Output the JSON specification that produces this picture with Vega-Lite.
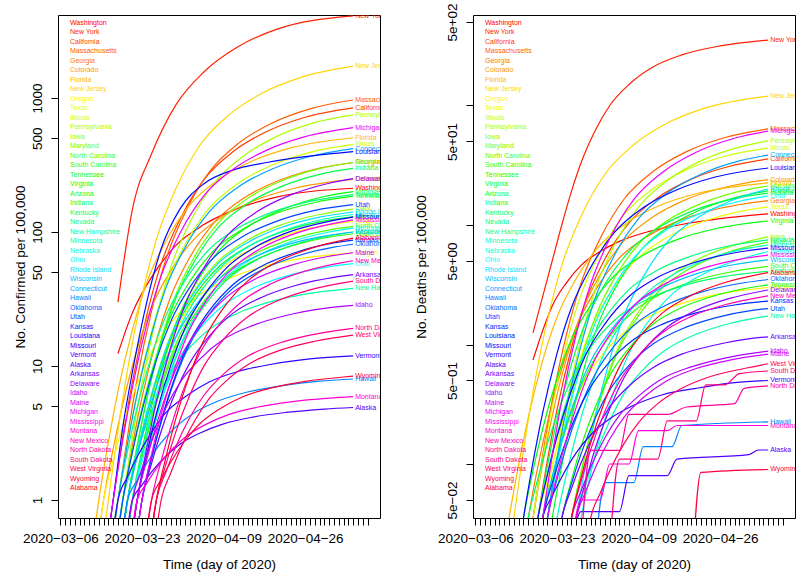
{
"$schema":"https://vega.github.io/schema/vega-lite/v6.json",
"padding":{"left":12,"top":2,"right":0,"bottom":0},
"background":"white",
"config":{"font":"Liberation Sans","view":{"stroke":"#000","strokeWidth":1},
"axis":{"grid":false,"domain":false,"tickColor":"#000","tickSize":7,"labelColor":"#000","titleColor":"#000","labelFontSize":13.5,"titleFontSize":13.5,"titleFontWeight":"normal","labelFont":"Liberation Sans","titleFont":"Liberation Sans","labelOverlap":false,"labelFlush":false,"labelBound":false},
"legend":{"labelFont":"Liberation Sans"}},
"datasets":{
"names":[{"a":"WA","n":"Washington"},{"a":"NY","n":"New York"},{"a":"CA","n":"California"},{"a":"MA","n":"Massachusetts"},{"a":"GA","n":"Georgia"},{"a":"CO","n":"Colorado"},{"a":"FL","n":"Florida"},{"a":"NJ","n":"New Jersey"},{"a":"OR","n":"Oregon"},{"a":"TX","n":"Texas"},{"a":"IL","n":"Illinois"},{"a":"PA","n":"Pennsylvania"},{"a":"IA","n":"Iowa"},{"a":"MD","n":"Maryland"},{"a":"NC","n":"North Carolina"},{"a":"SC","n":"South Carolina"},{"a":"TN","n":"Tennessee"},{"a":"VA","n":"Virginia"},{"a":"AZ","n":"Arizona"},{"a":"IN","n":"Indiana"},{"a":"KY","n":"Kentucky"},{"a":"NV","n":"Nevada"},{"a":"NH","n":"New Hampshire"},{"a":"MN","n":"Minnesota"},{"a":"NE","n":"Nebraska"},{"a":"OH","n":"Ohio"},{"a":"RI","n":"Rhode Island"},{"a":"WI","n":"Wisconsin"},{"a":"CT","n":"Connecticut"},{"a":"HI","n":"Hawaii"},{"a":"OK","n":"Oklahoma"},{"a":"UT","n":"Utah"},{"a":"KS","n":"Kansas"},{"a":"LA","n":"Louisiana"},{"a":"MO","n":"Missouri"},{"a":"VT","n":"Vermont"},{"a":"AK","n":"Alaska"},{"a":"AR","n":"Arkansas"},{"a":"DE","n":"Delaware"},{"a":"ID","n":"Idaho"},{"a":"ME","n":"Maine"},{"a":"MI","n":"Michigan"},{"a":"MS","n":"Mississippi"},{"a":"MT","n":"Montana"},{"a":"NM","n":"New Mexico"},{"a":"ND","n":"North Dakota"},{"a":"SD","n":"South Dakota"},{"a":"WV","n":"West Virginia"},{"a":"WY","n":"Wyoming"},{"a":"AL","n":"Alabama"}],
"conf":[
{"s":"WA","d":"2020-03-18","v":12.4},{"s":"WA","d":"2020-03-21","v":24.9},{"s":"WA","d":"2020-03-25","v":46},{"s":"WA","d":"2020-03-30","v":79},{"s":"WA","d":"2020-04-05","v":114},{"s":"WA","d":"2020-04-12","v":150},{"s":"WA","d":"2020-04-20","v":182},{"s":"WA","d":"2020-05-06","v":212},
{"s":"NY","d":"2020-03-18","v":30},{"s":"NY","d":"2020-03-21","v":147},{"s":"NY","d":"2020-03-25","v":383},{"s":"NY","d":"2020-03-30","v":881},{"s":"NY","d":"2020-04-05","v":1577},{"s":"NY","d":"2020-04-12","v":2410},{"s":"NY","d":"2020-04-20","v":3250},{"s":"NY","d":"2020-05-06","v":4100},
{"s":"CA","d":"2020-03-15","v":0.3},{"s":"CA","d":"2020-03-17","v":1},{"s":"CA","d":"2020-03-19","v":2.95},{"s":"CA","d":"2020-03-21","v":7.6},{"s":"CA","d":"2020-03-24","v":24},{"s":"CA","d":"2020-03-27","v":58},{"s":"CA","d":"2020-03-31","v":126},{"s":"CA","d":"2020-04-05","v":248},{"s":"CA","d":"2020-04-11","v":398},{"s":"CA","d":"2020-04-18","v":562},{"s":"CA","d":"2020-04-26","v":718},{"s":"CA","d":"2020-05-06","v":844},
{"s":"MA","d":"2020-03-16","v":0.3},{"s":"MA","d":"2020-03-18","v":1},{"s":"MA","d":"2020-03-20","v":3},{"s":"MA","d":"2020-03-22","v":8},{"s":"MA","d":"2020-03-25","v":25.8},{"s":"MA","d":"2020-03-28","v":63},{"s":"MA","d":"2020-04-01","v":140},{"s":"MA","d":"2020-04-06","v":280},{"s":"MA","d":"2020-04-12","v":455},{"s":"MA","d":"2020-04-19","v":647},{"s":"MA","d":"2020-04-27","v":830},{"s":"MA","d":"2020-05-06","v":966},
{"s":"GA","d":"2020-03-17","v":0.3},{"s":"GA","d":"2020-03-19","v":1},{"s":"GA","d":"2020-03-21","v":2.55},{"s":"GA","d":"2020-03-23","v":5.8},{"s":"GA","d":"2020-03-26","v":15.6},{"s":"GA","d":"2020-03-29","v":33},{"s":"GA","d":"2020-04-02","v":65},{"s":"GA","d":"2020-04-07","v":117},{"s":"GA","d":"2020-04-13","v":177},{"s":"GA","d":"2020-04-20","v":238},{"s":"GA","d":"2020-04-28","v":294},{"s":"GA","d":"2020-05-06","v":330},
{"s":"CO","d":"2020-03-13","v":0.3},{"s":"CO","d":"2020-03-15","v":1},{"s":"CO","d":"2020-03-17","v":2.42},{"s":"CO","d":"2020-03-19","v":5.2},{"s":"CO","d":"2020-03-22","v":13.4},{"s":"CO","d":"2020-03-25","v":27.4},{"s":"CO","d":"2020-03-29","v":51.5},{"s":"CO","d":"2020-04-03","v":89.5},{"s":"CO","d":"2020-04-09","v":132},{"s":"CO","d":"2020-04-16","v":175},{"s":"CO","d":"2020-04-24","v":213},{"s":"CO","d":"2020-05-06","v":247},
{"s":"FL","d":"2020-03-12","v":0.3},{"s":"FL","d":"2020-03-14","v":1},{"s":"FL","d":"2020-03-16","v":2.71},{"s":"FL","d":"2020-03-18","v":6.5},{"s":"FL","d":"2020-03-21","v":18.6},{"s":"FL","d":"2020-03-24","v":41.9},{"s":"FL","d":"2020-03-28","v":85.7},{"s":"FL","d":"2020-04-02","v":160},{"s":"FL","d":"2020-04-08","v":247},{"s":"FL","d":"2020-04-15","v":339},{"s":"FL","d":"2020-04-23","v":424},{"s":"FL","d":"2020-05-06","v":505},
{"s":"NJ","d":"2020-03-14","v":0.3},{"s":"NJ","d":"2020-03-16","v":1},{"s":"NJ","d":"2020-03-18","v":3.3},{"s":"NJ","d":"2020-03-20","v":9.4},{"s":"NJ","d":"2020-03-23","v":33.4},{"s":"NJ","d":"2020-03-26","v":88},{"s":"NJ","d":"2020-03-30","v":208},{"s":"NJ","d":"2020-04-04","v":440},{"s":"NJ","d":"2020-04-10","v":741},{"s":"NJ","d":"2020-04-17","v":1084},{"s":"NJ","d":"2020-04-25","v":1419},{"s":"NJ","d":"2020-05-06","v":1726},
{"s":"OR","d":"2020-03-13","v":0.3},{"s":"OR","d":"2020-03-15","v":1},{"s":"OR","d":"2020-03-17","v":1.98},{"s":"OR","d":"2020-03-19","v":3.58},{"s":"OR","d":"2020-03-22","v":7.4},{"s":"OR","d":"2020-03-25","v":12.8},{"s":"OR","d":"2020-03-29","v":20.9},{"s":"OR","d":"2020-04-03","v":32},{"s":"OR","d":"2020-04-09","v":43},{"s":"OR","d":"2020-04-16","v":53.6},{"s":"OR","d":"2020-04-24","v":62.4},{"s":"OR","d":"2020-05-06","v":70},
{"s":"TX","d":"2020-03-18","v":0.3},{"s":"TX","d":"2020-03-20","v":1},{"s":"TX","d":"2020-03-22","v":2.17},{"s":"TX","d":"2020-03-24","v":4.27},{"s":"TX","d":"2020-03-27","v":9.7},{"s":"TX","d":"2020-03-30","v":18.2},{"s":"TX","d":"2020-04-03","v":31.8},{"s":"TX","d":"2020-04-08","v":51.5},{"s":"TX","d":"2020-04-14","v":72.2},{"s":"TX","d":"2020-04-21","v":92.4},{"s":"TX","d":"2020-04-29","v":110},{"s":"TX","d":"2020-05-06","v":120},
{"s":"IL","d":"2020-03-16","v":0.3},{"s":"IL","d":"2020-03-18","v":1},{"s":"IL","d":"2020-03-20","v":2.67},{"s":"IL","d":"2020-03-22","v":6.3},{"s":"IL","d":"2020-03-25","v":18},{"s":"IL","d":"2020-03-28","v":40},{"s":"IL","d":"2020-04-01","v":81},{"s":"IL","d":"2020-04-06","v":150},{"s":"IL","d":"2020-04-12","v":230},{"s":"IL","d":"2020-04-19","v":315},{"s":"IL","d":"2020-04-27","v":393},{"s":"IL","d":"2020-05-06","v":450},
{"s":"PA","d":"2020-03-17","v":0.3},{"s":"PA","d":"2020-03-19","v":1},{"s":"PA","d":"2020-03-21","v":2.9},{"s":"PA","d":"2020-03-23","v":7.4},{"s":"PA","d":"2020-03-26","v":23},{"s":"PA","d":"2020-03-29","v":54.7},{"s":"PA","d":"2020-04-02","v":118},{"s":"PA","d":"2020-04-07","v":230},{"s":"PA","d":"2020-04-13","v":366},{"s":"PA","d":"2020-04-20","v":515},{"s":"PA","d":"2020-04-28","v":655},{"s":"PA","d":"2020-05-06","v":748},
{"s":"IA","d":"2020-03-18","v":0.3},{"s":"IA","d":"2020-03-20","v":1},{"s":"IA","d":"2020-03-22","v":2.24},{"s":"IA","d":"2020-03-24","v":4.5},{"s":"IA","d":"2020-03-27","v":10.7},{"s":"IA","d":"2020-03-30","v":20.7},{"s":"IA","d":"2020-04-03","v":36.9},{"s":"IA","d":"2020-04-08","v":61},{"s":"IA","d":"2020-04-14","v":87},{"s":"IA","d":"2020-04-21","v":113},{"s":"IA","d":"2020-04-29","v":135},{"s":"IA","d":"2020-05-06","v":148},
{"s":"MD","d":"2020-03-18","v":0.3},{"s":"MD","d":"2020-03-20","v":1},{"s":"MD","d":"2020-03-22","v":2.55},{"s":"MD","d":"2020-03-24","v":5.8},{"s":"MD","d":"2020-03-27","v":15.7},{"s":"MD","d":"2020-03-30","v":33.6},{"s":"MD","d":"2020-04-03","v":66},{"s":"MD","d":"2020-04-08","v":118},{"s":"MD","d":"2020-04-14","v":178},{"s":"MD","d":"2020-04-21","v":240},{"s":"MD","d":"2020-04-29","v":297},{"s":"MD","d":"2020-05-06","v":330},
{"s":"NC","d":"2020-03-19","v":0.3},{"s":"NC","d":"2020-03-21","v":1},{"s":"NC","d":"2020-03-23","v":2.14},{"s":"NC","d":"2020-03-25","v":4.17},{"s":"NC","d":"2020-03-28","v":9.35},{"s":"NC","d":"2020-03-31","v":17.4},{"s":"NC","d":"2020-04-04","v":30},{"s":"NC","d":"2020-04-09","v":48.3},{"s":"NC","d":"2020-04-15","v":67.3},{"s":"NC","d":"2020-04-22","v":85.9},{"s":"NC","d":"2020-04-30","v":102},{"s":"NC","d":"2020-05-06","v":110},
{"s":"SC","d":"2020-03-19","v":0.3},{"s":"SC","d":"2020-03-21","v":1},{"s":"SC","d":"2020-03-23","v":2.1},{"s":"SC","d":"2020-03-25","v":4},{"s":"SC","d":"2020-03-28","v":8.8},{"s":"SC","d":"2020-03-31","v":16.1},{"s":"SC","d":"2020-04-04","v":27.4},{"s":"SC","d":"2020-04-09","v":43.6},{"s":"SC","d":"2020-04-15","v":60.3},{"s":"SC","d":"2020-04-22","v":76.2},{"s":"SC","d":"2020-04-30","v":90.2},{"s":"SC","d":"2020-05-06","v":97},
{"s":"TN","d":"2020-03-17","v":0.3},{"s":"TN","d":"2020-03-19","v":1},{"s":"TN","d":"2020-03-21","v":2.32},{"s":"TN","d":"2020-03-23","v":4.85},{"s":"TN","d":"2020-03-26","v":11.9},{"s":"TN","d":"2020-03-29","v":23.5},{"s":"TN","d":"2020-04-02","v":43},{"s":"TN","d":"2020-04-07","v":72.8},{"s":"TN","d":"2020-04-13","v":105},{"s":"TN","d":"2020-04-20","v":138},{"s":"TN","d":"2020-04-28","v":166},{"s":"TN","d":"2020-05-06","v":185},
{"s":"VA","d":"2020-03-19","v":0.3},{"s":"VA","d":"2020-03-21","v":1},{"s":"VA","d":"2020-03-23","v":2.36},{"s":"VA","d":"2020-03-25","v":5},{"s":"VA","d":"2020-03-28","v":12.4},{"s":"VA","d":"2020-03-31","v":25},{"s":"VA","d":"2020-04-04","v":46},{"s":"VA","d":"2020-04-09","v":79},{"s":"VA","d":"2020-04-15","v":115},{"s":"VA","d":"2020-04-22","v":151},{"s":"VA","d":"2020-04-30","v":184},{"s":"VA","d":"2020-05-06","v":200},
{"s":"AZ","d":"2020-03-18","v":0.3},{"s":"AZ","d":"2020-03-20","v":1},{"s":"AZ","d":"2020-03-22","v":2.2},{"s":"AZ","d":"2020-03-24","v":4.4},{"s":"AZ","d":"2020-03-27","v":10.1},{"s":"AZ","d":"2020-03-30","v":19.1},{"s":"AZ","d":"2020-04-03","v":33.6},{"s":"AZ","d":"2020-04-08","v":55},{"s":"AZ","d":"2020-04-14","v":77.5},{"s":"AZ","d":"2020-04-21","v":99.6},{"s":"AZ","d":"2020-04-29","v":119},{"s":"AZ","d":"2020-05-06","v":130},
{"s":"IN","d":"2020-03-18","v":0.3},{"s":"IN","d":"2020-03-20","v":1},{"s":"IN","d":"2020-03-22","v":2.51},{"s":"IN","d":"2020-03-24","v":5.6},{"s":"IN","d":"2020-03-27","v":15},{"s":"IN","d":"2020-03-30","v":31.6},{"s":"IN","d":"2020-04-03","v":61},{"s":"IN","d":"2020-04-08","v":109},{"s":"IN","d":"2020-04-14","v":163},{"s":"IN","d":"2020-04-21","v":218},{"s":"IN","d":"2020-04-29","v":269},{"s":"IN","d":"2020-05-06","v":298},
{"s":"KY","d":"2020-03-20","v":0.3},{"s":"KY","d":"2020-03-22","v":1},{"s":"KY","d":"2020-03-24","v":2.1},{"s":"KY","d":"2020-03-26","v":4.06},{"s":"KY","d":"2020-03-29","v":9},{"s":"KY","d":"2020-04-01","v":16.5},{"s":"KY","d":"2020-04-05","v":28.2},{"s":"KY","d":"2020-04-10","v":45},{"s":"KY","d":"2020-04-16","v":62.4},{"s":"KY","d":"2020-04-23","v":79},{"s":"KY","d":"2020-05-01","v":93.5},{"s":"KY","d":"2020-05-06","v":100},
{"s":"NV","d":"2020-03-16","v":0.3},{"s":"NV","d":"2020-03-18","v":1},{"s":"NV","d":"2020-03-20","v":2.33},{"s":"NV","d":"2020-03-22","v":4.9},{"s":"NV","d":"2020-03-25","v":12},{"s":"NV","d":"2020-03-28","v":23.8},{"s":"NV","d":"2020-04-01","v":43.6},{"s":"NV","d":"2020-04-06","v":74},{"s":"NV","d":"2020-04-12","v":107},{"s":"NV","d":"2020-04-19","v":140},{"s":"NV","d":"2020-04-27","v":169},{"s":"NV","d":"2020-05-06","v":190},
{"s":"NH","d":"2020-03-17","v":0.3},{"s":"NH","d":"2020-03-19","v":1},{"s":"NH","d":"2020-03-21","v":1.8},{"s":"NH","d":"2020-03-23","v":3},{"s":"NH","d":"2020-03-26","v":5.6},{"s":"NH","d":"2020-03-29","v":9},{"s":"NH","d":"2020-04-02","v":13.8},{"s":"NH","d":"2020-04-07","v":19.9},{"s":"NH","d":"2020-04-13","v":25.7},{"s":"NH","d":"2020-04-20","v":31},{"s":"NH","d":"2020-04-28","v":35.3},{"s":"NH","d":"2020-05-06","v":38},
{"s":"MN","d":"2020-03-19","v":0.3},{"s":"MN","d":"2020-03-21","v":1},{"s":"MN","d":"2020-03-23","v":2.21},{"s":"MN","d":"2020-03-25","v":4.4},{"s":"MN","d":"2020-03-28","v":10.3},{"s":"MN","d":"2020-03-31","v":19.7},{"s":"MN","d":"2020-04-04","v":34.8},{"s":"MN","d":"2020-04-09","v":57},{"s":"MN","d":"2020-04-15","v":81},{"s":"MN","d":"2020-04-22","v":104},{"s":"MN","d":"2020-04-30","v":125},{"s":"MN","d":"2020-05-06","v":135},
{"s":"NE","d":"2020-03-20","v":0.3},{"s":"NE","d":"2020-03-22","v":1},{"s":"NE","d":"2020-03-24","v":2.13},{"s":"NE","d":"2020-03-26","v":4.14},{"s":"NE","d":"2020-03-29","v":9.3},{"s":"NE","d":"2020-04-01","v":17.2},{"s":"NE","d":"2020-04-05","v":29.6},{"s":"NE","d":"2020-04-10","v":47.5},{"s":"NE","d":"2020-04-16","v":66.2},{"s":"NE","d":"2020-04-23","v":84.3},{"s":"NE","d":"2020-05-01","v":100},{"s":"NE","d":"2020-05-06","v":107},
{"s":"OH","d":"2020-03-19","v":0.3},{"s":"OH","d":"2020-03-21","v":1},{"s":"OH","d":"2020-03-23","v":1.93},{"s":"OH","d":"2020-03-25","v":3.4},{"s":"OH","d":"2020-03-28","v":6.9},{"s":"OH","d":"2020-03-31","v":11.8},{"s":"OH","d":"2020-04-04","v":18.9},{"s":"OH","d":"2020-04-09","v":28.4},{"s":"OH","d":"2020-04-15","v":37.9},{"s":"OH","d":"2020-04-22","v":46.8},{"s":"OH","d":"2020-04-30","v":54.2},{"s":"OH","d":"2020-05-06","v":58},
{"s":"RI","d":"2020-03-18","v":0.3},{"s":"RI","d":"2020-03-20","v":1},{"s":"RI","d":"2020-03-22","v":2.22},{"s":"RI","d":"2020-03-24","v":4.5},{"s":"RI","d":"2020-03-27","v":10.5},{"s":"RI","d":"2020-03-30","v":20.1},{"s":"RI","d":"2020-04-03","v":35.7},{"s":"RI","d":"2020-04-08","v":58.8},{"s":"RI","d":"2020-04-14","v":83.4},{"s":"RI","d":"2020-04-21","v":108},{"s":"RI","d":"2020-04-29","v":129},{"s":"RI","d":"2020-05-06","v":141},
{"s":"WI","d":"2020-03-18","v":0.3},{"s":"WI","d":"2020-03-20","v":1},{"s":"WI","d":"2020-03-22","v":2.1},{"s":"WI","d":"2020-03-24","v":4.04},{"s":"WI","d":"2020-03-27","v":8.9},{"s":"WI","d":"2020-03-30","v":16.3},{"s":"WI","d":"2020-04-03","v":27.8},{"s":"WI","d":"2020-04-08","v":44.3},{"s":"WI","d":"2020-04-14","v":61.4},{"s":"WI","d":"2020-04-21","v":77.8},{"s":"WI","d":"2020-04-29","v":91.9},{"s":"WI","d":"2020-05-06","v":100},
{"s":"CT","d":"2020-03-16","v":0.3},{"s":"CT","d":"2020-03-18","v":1},{"s":"CT","d":"2020-03-20","v":2.64},{"s":"CT","d":"2020-03-22","v":6.2},{"s":"CT","d":"2020-03-25","v":17.4},{"s":"CT","d":"2020-03-28","v":38.3},{"s":"CT","d":"2020-04-01","v":76.9},{"s":"CT","d":"2020-04-06","v":141},{"s":"CT","d":"2020-04-12","v":216},{"s":"CT","d":"2020-04-19","v":294},{"s":"CT","d":"2020-04-27","v":366},{"s":"CT","d":"2020-05-06","v":419},
{"s":"HI","d":"2020-03-18","v":0.3},{"s":"HI","d":"2020-03-20","v":1},{"s":"HI","d":"2020-03-22","v":1.4},{"s":"HI","d":"2020-03-24","v":1.88},{"s":"HI","d":"2020-03-27","v":2.68},{"s":"HI","d":"2020-03-30","v":3.5},{"s":"HI","d":"2020-04-03","v":4.5},{"s":"HI","d":"2020-04-08","v":5.5},{"s":"HI","d":"2020-04-14","v":6.4},{"s":"HI","d":"2020-04-21","v":7.1},{"s":"HI","d":"2020-04-29","v":7.7},{"s":"HI","d":"2020-05-06","v":8},
{"s":"OK","d":"2020-03-21","v":0.3},{"s":"OK","d":"2020-03-23","v":1},{"s":"OK","d":"2020-03-25","v":2.05},{"s":"OK","d":"2020-03-27","v":3.8},{"s":"OK","d":"2020-03-30","v":8.2},{"s":"OK","d":"2020-04-02","v":14.6},{"s":"OK","d":"2020-04-06","v":24.4},{"s":"OK","d":"2020-04-11","v":38.2},{"s":"OK","d":"2020-04-17","v":52.2},{"s":"OK","d":"2020-04-24","v":65.6},{"s":"OK","d":"2020-05-02","v":77},{"s":"OK","d":"2020-05-06","v":81},
{"s":"UT","d":"2020-03-17","v":0.3},{"s":"UT","d":"2020-03-19","v":1},{"s":"UT","d":"2020-03-21","v":2.27},{"s":"UT","d":"2020-03-23","v":4.6},{"s":"UT","d":"2020-03-26","v":11.1},{"s":"UT","d":"2020-03-29","v":21.5},{"s":"UT","d":"2020-04-02","v":38.8},{"s":"UT","d":"2020-04-07","v":64.7},{"s":"UT","d":"2020-04-13","v":92.5},{"s":"UT","d":"2020-04-20","v":120},{"s":"UT","d":"2020-04-28","v":145},{"s":"UT","d":"2020-05-06","v":160},
{"s":"KS","d":"2020-03-21","v":0.3},{"s":"KS","d":"2020-03-23","v":1},{"s":"KS","d":"2020-03-25","v":2.07},{"s":"KS","d":"2020-03-27","v":3.9},{"s":"KS","d":"2020-03-30","v":8.5},{"s":"KS","d":"2020-04-02","v":15.3},{"s":"KS","d":"2020-04-06","v":25.8},{"s":"KS","d":"2020-04-11","v":40.6},{"s":"KS","d":"2020-04-17","v":55.7},{"s":"KS","d":"2020-04-24","v":70.3},{"s":"KS","d":"2020-05-02","v":82.8},{"s":"KS","d":"2020-05-06","v":87},
{"s":"LA","d":"2020-03-15","v":0.3},{"s":"LA","d":"2020-03-17","v":1},{"s":"LA","d":"2020-03-19","v":3.5},{"s":"LA","d":"2020-03-21","v":9},{"s":"LA","d":"2020-03-24","v":30},{"s":"LA","d":"2020-03-27","v":75},{"s":"LA","d":"2020-03-31","v":150},{"s":"LA","d":"2020-04-05","v":230},{"s":"LA","d":"2020-04-11","v":290},{"s":"LA","d":"2020-04-18","v":330},{"s":"LA","d":"2020-04-26","v":365},{"s":"LA","d":"2020-05-06","v":398},
{"s":"MO","d":"2020-03-20","v":0.3},{"s":"MO","d":"2020-03-22","v":1},{"s":"MO","d":"2020-03-24","v":2.2},{"s":"MO","d":"2020-03-26","v":4.4},{"s":"MO","d":"2020-03-29","v":10.1},{"s":"MO","d":"2020-04-01","v":19.3},{"s":"MO","d":"2020-04-05","v":34},{"s":"MO","d":"2020-04-10","v":55.6},{"s":"MO","d":"2020-04-16","v":78.5},{"s":"MO","d":"2020-04-23","v":101},{"s":"MO","d":"2020-05-01","v":120},{"s":"MO","d":"2020-05-06","v":129},
{"s":"VT","d":"2020-03-16","v":0.3},{"s":"VT","d":"2020-03-18","v":1},{"s":"VT","d":"2020-03-20","v":1.49},{"s":"VT","d":"2020-03-22","v":2.1},{"s":"VT","d":"2020-03-25","v":3.2},{"s":"VT","d":"2020-03-28","v":4.5},{"s":"VT","d":"2020-04-01","v":5.9},{"s":"VT","d":"2020-04-06","v":7.6},{"s":"VT","d":"2020-04-12","v":9.1},{"s":"VT","d":"2020-04-19","v":10.3},{"s":"VT","d":"2020-04-27","v":11.3},{"s":"VT","d":"2020-05-06","v":11.9},
{"s":"AK","d":"2020-03-19","v":0.3},{"s":"AK","d":"2020-03-21","v":1},{"s":"AK","d":"2020-03-23","v":1.29},{"s":"AK","d":"2020-03-25","v":1.62},{"s":"AK","d":"2020-03-28","v":2.13},{"s":"AK","d":"2020-03-31","v":2.62},{"s":"AK","d":"2020-04-04","v":3.15},{"s":"AK","d":"2020-04-09","v":3.7},{"s":"AK","d":"2020-04-15","v":4.15},{"s":"AK","d":"2020-04-22","v":4.5},{"s":"AK","d":"2020-04-30","v":4.77},{"s":"AK","d":"2020-05-06","v":4.9},
{"s":"AR","d":"2020-03-21","v":0.3},{"s":"AR","d":"2020-03-23","v":1},{"s":"AR","d":"2020-03-25","v":1.88},{"s":"AR","d":"2020-03-27","v":3.26},{"s":"AR","d":"2020-03-30","v":6.4},{"s":"AR","d":"2020-04-02","v":10.6},{"s":"AR","d":"2020-04-06","v":16.7},{"s":"AR","d":"2020-04-11","v":24.8},{"s":"AR","d":"2020-04-17","v":32.6},{"s":"AR","d":"2020-04-24","v":39.9},{"s":"AR","d":"2020-05-02","v":45.9},{"s":"AR","d":"2020-05-06","v":48},
{"s":"DE","d":"2020-03-20","v":0.3},{"s":"DE","d":"2020-03-22","v":1},{"s":"DE","d":"2020-03-24","v":2.45},{"s":"DE","d":"2020-03-26","v":5.4},{"s":"DE","d":"2020-03-29","v":13.9},{"s":"DE","d":"2020-04-01","v":28.8},{"s":"DE","d":"2020-04-05","v":54.8},{"s":"DE","d":"2020-04-10","v":96},{"s":"DE","d":"2020-04-16","v":142},{"s":"DE","d":"2020-04-23","v":189},{"s":"DE","d":"2020-05-01","v":231},{"s":"DE","d":"2020-05-06","v":250},
{"s":"ID","d":"2020-03-19","v":0.3},{"s":"ID","d":"2020-03-21","v":1},{"s":"ID","d":"2020-03-23","v":1.72},{"s":"ID","d":"2020-03-25","v":2.76},{"s":"ID","d":"2020-03-28","v":4.9},{"s":"ID","d":"2020-03-31","v":7.6},{"s":"ID","d":"2020-04-04","v":11.2},{"s":"ID","d":"2020-04-09","v":15.8},{"s":"ID","d":"2020-04-15","v":20},{"s":"ID","d":"2020-04-22","v":23.8},{"s":"ID","d":"2020-04-30","v":26.9},{"s":"ID","d":"2020-05-06","v":28.3},
{"s":"ME","d":"2020-03-20","v":0.3},{"s":"ME","d":"2020-03-22","v":1},{"s":"ME","d":"2020-03-24","v":2},{"s":"ME","d":"2020-03-26","v":3.64},{"s":"ME","d":"2020-03-29","v":7.6},{"s":"ME","d":"2020-04-01","v":13.3},{"s":"ME","d":"2020-04-05","v":21.8},{"s":"ME","d":"2020-04-10","v":33.5},{"s":"ME","d":"2020-04-16","v":45.3},{"s":"ME","d":"2020-04-23","v":56.4},{"s":"ME","d":"2020-05-01","v":65.9},{"s":"ME","d":"2020-05-06","v":70},
{"s":"MI","d":"2020-03-15","v":0.3},{"s":"MI","d":"2020-03-17","v":1},{"s":"MI","d":"2020-03-19","v":2.8},{"s":"MI","d":"2020-03-21","v":6.9},{"s":"MI","d":"2020-03-24","v":20.5},{"s":"MI","d":"2020-03-27","v":47},{"s":"MI","d":"2020-03-31","v":99},{"s":"MI","d":"2020-04-05","v":188},{"s":"MI","d":"2020-04-11","v":294},{"s":"MI","d":"2020-04-18","v":408},{"s":"MI","d":"2020-04-26","v":514},{"s":"MI","d":"2020-05-06","v":600},
{"s":"MS","d":"2020-03-21","v":0.3},{"s":"MS","d":"2020-03-23","v":1},{"s":"MS","d":"2020-03-25","v":2.19},{"s":"MS","d":"2020-03-27","v":4.35},{"s":"MS","d":"2020-03-30","v":10},{"s":"MS","d":"2020-04-02","v":18.9},{"s":"MS","d":"2020-04-06","v":33.1},{"s":"MS","d":"2020-04-11","v":54},{"s":"MS","d":"2020-04-17","v":76.2},{"s":"MS","d":"2020-04-24","v":97.7},{"s":"MS","d":"2020-05-02","v":116},{"s":"MS","d":"2020-05-06","v":123},
{"s":"MT","d":"2020-03-20","v":0.3},{"s":"MT","d":"2020-03-22","v":1},{"s":"MT","d":"2020-03-24","v":1.33},{"s":"MT","d":"2020-03-26","v":1.72},{"s":"MT","d":"2020-03-29","v":2.33},{"s":"MT","d":"2020-04-01","v":2.94},{"s":"MT","d":"2020-04-05","v":3.62},{"s":"MT","d":"2020-04-10","v":4.34},{"s":"MT","d":"2020-04-16","v":4.92},{"s":"MT","d":"2020-04-23","v":5.4},{"s":"MT","d":"2020-05-01","v":5.75},{"s":"MT","d":"2020-05-06","v":5.9},
{"s":"NM","d":"2020-03-23","v":0.3},{"s":"NM","d":"2020-03-25","v":1},{"s":"NM","d":"2020-03-27","v":1.96},{"s":"NM","d":"2020-03-29","v":3.5},{"s":"NM","d":"2020-04-01","v":7.2},{"s":"NM","d":"2020-04-04","v":12.4},{"s":"NM","d":"2020-04-08","v":20.2},{"s":"NM","d":"2020-04-13","v":30.7},{"s":"NM","d":"2020-04-19","v":41.2},{"s":"NM","d":"2020-04-26","v":51},{"s":"NM","d":"2020-05-04","v":59.4},{"s":"NM","d":"2020-05-06","v":61},
{"s":"ND","d":"2020-03-24","v":0.3},{"s":"ND","d":"2020-03-26","v":1},{"s":"ND","d":"2020-03-28","v":1.62},{"s":"ND","d":"2020-03-30","v":2.48},{"s":"ND","d":"2020-04-02","v":4.15},{"s":"ND","d":"2020-04-05","v":6.1},{"s":"ND","d":"2020-04-09","v":8.7},{"s":"ND","d":"2020-04-14","v":11.8},{"s":"ND","d":"2020-04-20","v":14.6},{"s":"ND","d":"2020-04-27","v":17},{"s":"ND","d":"2020-05-06","v":19.1},
{"s":"SD","d":"2020-03-24","v":0.3},{"s":"SD","d":"2020-03-26","v":1},{"s":"SD","d":"2020-03-28","v":1.85},{"s":"SD","d":"2020-03-30","v":3.18},{"s":"SD","d":"2020-04-02","v":6.1},{"s":"SD","d":"2020-04-05","v":10.1},{"s":"SD","d":"2020-04-09","v":15.8},{"s":"SD","d":"2020-04-14","v":23.2},{"s":"SD","d":"2020-04-20","v":30.4},{"s":"SD","d":"2020-04-27","v":37},{"s":"SD","d":"2020-05-06","v":43},
{"s":"WV","d":"2020-03-25","v":0.3},{"s":"WV","d":"2020-03-27","v":1},{"s":"WV","d":"2020-03-29","v":1.59},{"s":"WV","d":"2020-03-31","v":2.4},{"s":"WV","d":"2020-04-03","v":3.9},{"s":"WV","d":"2020-04-06","v":5.7},{"s":"WV","d":"2020-04-10","v":8},{"s":"WV","d":"2020-04-15","v":10.7},{"s":"WV","d":"2020-04-21","v":13.2},{"s":"WV","d":"2020-04-28","v":15.3},{"s":"WV","d":"2020-05-06","v":17},
{"s":"WY","d":"2020-03-23","v":0.3},{"s":"WY","d":"2020-03-25","v":1},{"s":"WY","d":"2020-03-27","v":1.42},{"s":"WY","d":"2020-03-29","v":1.92},{"s":"WY","d":"2020-04-01","v":2.78},{"s":"WY","d":"2020-04-04","v":3.69},{"s":"WY","d":"2020-04-08","v":4.74},{"s":"WY","d":"2020-04-13","v":5.9},{"s":"WY","d":"2020-04-19","v":6.86},{"s":"WY","d":"2020-04-26","v":7.67},{"s":"WY","d":"2020-05-04","v":8.28},{"s":"WY","d":"2020-05-06","v":8.4},
{"s":"AL","d":"2020-03-24","v":0.3},{"s":"AL","d":"2020-03-26","v":1},{"s":"AL","d":"2020-03-28","v":2.09},{"s":"AL","d":"2020-03-30","v":4},{"s":"AL","d":"2020-04-02","v":8.7},{"s":"AL","d":"2020-04-05","v":15.9},{"s":"AL","d":"2020-04-09","v":27.1},{"s":"AL","d":"2020-04-14","v":43},{"s":"AL","d":"2020-04-20","v":59.4},{"s":"AL","d":"2020-04-27","v":75.2},{"s":"AL","d":"2020-05-06","v":90}
],
"death":[
{"s":"WA","d":"2020-03-18","v":0.74},{"s":"WA","d":"2020-03-20","v":1.3},{"s":"WA","d":"2020-03-22","v":2.1},{"s":"WA","d":"2020-03-25","v":3.3},{"s":"WA","d":"2020-03-28","v":4.6},{"s":"WA","d":"2020-04-01","v":6},{"s":"WA","d":"2020-04-05","v":7.3},{"s":"WA","d":"2020-04-11","v":8.8},{"s":"WA","d":"2020-04-18","v":10.1},{"s":"WA","d":"2020-04-26","v":11.3},{"s":"WA","d":"2020-05-06","v":12.4},
{"s":"NY","d":"2020-03-18","v":1.25},{"s":"NY","d":"2020-03-20","v":2.5},{"s":"NY","d":"2020-03-22","v":5},{"s":"NY","d":"2020-03-24","v":10},{"s":"NY","d":"2020-03-26","v":19},{"s":"NY","d":"2020-03-28","v":33},{"s":"NY","d":"2020-03-31","v":62},{"s":"NY","d":"2020-04-03","v":100},{"s":"NY","d":"2020-04-07","v":150},{"s":"NY","d":"2020-04-12","v":210},{"s":"NY","d":"2020-04-18","v":265},{"s":"NY","d":"2020-04-26","v":315},{"s":"NY","d":"2020-05-06","v":353},
{"s":"CA","d":"2020-03-17","v":0.01},{"s":"CA","d":"2020-03-19","v":0.035},{"s":"CA","d":"2020-03-21","v":0.107},{"s":"CA","d":"2020-03-23","v":0.284},{"s":"CA","d":"2020-03-26","v":0.93},{"s":"CA","d":"2020-03-29","v":2.31},{"s":"CA","d":"2020-04-02","v":5.2},{"s":"CA","d":"2020-04-07","v":10.4},{"s":"CA","d":"2020-04-13","v":16.9},{"s":"CA","d":"2020-04-20","v":24.2},{"s":"CA","d":"2020-04-28","v":31},{"s":"CA","d":"2020-05-06","v":35.7},
{"s":"MA","d":"2020-03-16","v":0.01},{"s":"MA","d":"2020-03-18","v":0.035},{"s":"MA","d":"2020-03-20","v":0.117},{"s":"MA","d":"2020-03-22","v":0.337},{"s":"MA","d":"2020-03-25","v":1.22},{"s":"MA","d":"2020-03-28","v":3.25},{"s":"MA","d":"2020-04-01","v":7.7},{"s":"MA","d":"2020-04-06","v":16.5},{"s":"MA","d":"2020-04-12","v":28},{"s":"MA","d":"2020-04-19","v":41.1},{"s":"MA","d":"2020-04-27","v":54},{"s":"MA","d":"2020-05-06","v":63.7},
{"s":"GA","d":"2020-03-15","v":0.01},{"s":"GA","d":"2020-03-17","v":0.035},{"s":"GA","d":"2020-03-19","v":0.094},{"s":"GA","d":"2020-03-21","v":0.221},{"s":"GA","d":"2020-03-24","v":0.63},{"s":"GA","d":"2020-03-27","v":1.4},{"s":"GA","d":"2020-03-31","v":2.84},{"s":"GA","d":"2020-04-05","v":5.3},{"s":"GA","d":"2020-04-11","v":8.1},{"s":"GA","d":"2020-04-18","v":11.1},{"s":"GA","d":"2020-04-26","v":13.8},{"s":"GA","d":"2020-05-06","v":16},
{"s":"CO","d":"2020-03-16","v":0.01},{"s":"CO","d":"2020-03-18","v":0.035},{"s":"CO","d":"2020-03-20","v":0.1},{"s":"CO","d":"2020-03-22","v":0.251},{"s":"CO","d":"2020-03-25","v":0.77},{"s":"CO","d":"2020-03-28","v":1.8},{"s":"CO","d":"2020-04-01","v":3.84},{"s":"CO","d":"2020-04-06","v":7.4},{"s":"CO","d":"2020-04-12","v":11.7},{"s":"CO","d":"2020-04-19","v":16.4},{"s":"CO","d":"2020-04-27","v":20.7},{"s":"CO","d":"2020-05-06","v":24},
{"s":"FL","d":"2020-03-11","v":0.01},{"s":"FL","d":"2020-03-13","v":0.035},{"s":"FL","d":"2020-03-15","v":0.098},{"s":"FL","d":"2020-03-17","v":0.243},{"s":"FL","d":"2020-03-20","v":0.73},{"s":"FL","d":"2020-03-23","v":1.69},{"s":"FL","d":"2020-03-27","v":3.56},{"s":"FL","d":"2020-04-01","v":6.8},{"s":"FL","d":"2020-04-07","v":10.7},{"s":"FL","d":"2020-04-14","v":14.9},{"s":"FL","d":"2020-04-22","v":18.7},{"s":"FL","d":"2020-05-06","v":22.5},
{"s":"NJ","d":"2020-03-12","v":0.01},{"s":"NJ","d":"2020-03-14","v":0.035},{"s":"NJ","d":"2020-03-16","v":0.129},{"s":"NJ","d":"2020-03-18","v":0.4},{"s":"NJ","d":"2020-03-21","v":1.6},{"s":"NJ","d":"2020-03-24","v":4.6},{"s":"NJ","d":"2020-03-28","v":11.8},{"s":"NJ","d":"2020-04-02","v":26.6},{"s":"NJ","d":"2020-04-08","v":47},{"s":"NJ","d":"2020-04-15","v":71.3},{"s":"NJ","d":"2020-04-23","v":95.5},{"s":"NJ","d":"2020-05-06","v":120},
{"s":"OR","d":"2020-03-17","v":0.01},{"s":"OR","d":"2020-03-19","v":0.035},{"s":"OR","d":"2020-03-21","v":0.072},{"s":"OR","d":"2020-03-23","v":0.135},{"s":"OR","d":"2020-03-26","v":0.288},{"s":"OR","d":"2020-03-29","v":0.52},{"s":"OR","d":"2020-04-02","v":0.87},{"s":"OR","d":"2020-04-07","v":1.36},{"s":"OR","d":"2020-04-13","v":1.86},{"s":"OR","d":"2020-04-20","v":2.33},{"s":"OR","d":"2020-04-28","v":2.74},{"s":"OR","d":"2020-05-06","v":3},
{"s":"TX","d":"2020-03-18","v":0.01},{"s":"TX","d":"2020-03-20","v":0.035},{"s":"TX","d":"2020-03-22","v":0.092},{"s":"TX","d":"2020-03-24","v":0.216},{"s":"TX","d":"2020-03-27","v":0.605},{"s":"TX","d":"2020-03-30","v":1.33},{"s":"TX","d":"2020-04-03","v":2.67},{"s":"TX","d":"2020-04-08","v":4.9},{"s":"TX","d":"2020-04-14","v":7.5},{"s":"TX","d":"2020-04-21","v":10.2},{"s":"TX","d":"2020-04-29","v":12.7},{"s":"TX","d":"2020-05-06","v":14.2},
{"s":"IL","d":"2020-03-16","v":0.01},{"s":"IL","d":"2020-03-18","v":0.035},{"s":"IL","d":"2020-03-20","v":0.11},{"s":"IL","d":"2020-03-22","v":0.3},{"s":"IL","d":"2020-03-25","v":1.02},{"s":"IL","d":"2020-03-28","v":2.6},{"s":"IL","d":"2020-04-01","v":5.9},{"s":"IL","d":"2020-04-06","v":12.2},{"s":"IL","d":"2020-04-12","v":20.1},{"s":"IL","d":"2020-04-19","v":29},{"s":"IL","d":"2020-04-27","v":37.6},{"s":"IL","d":"2020-05-06","v":44},
{"s":"PA","d":"2020-03-19","v":0.01},{"s":"PA","d":"2020-03-21","v":0.035},{"s":"PA","d":"2020-03-23","v":0.114},{"s":"PA","d":"2020-03-25","v":0.32},{"s":"PA","d":"2020-03-28","v":1.11},{"s":"PA","d":"2020-03-31","v":2.9},{"s":"PA","d":"2020-04-04","v":6.8},{"s":"PA","d":"2020-04-09","v":14.1},{"s":"PA","d":"2020-04-15","v":23.6},{"s":"PA","d":"2020-04-22","v":34.4},{"s":"PA","d":"2020-04-30","v":44.8},{"s":"PA","d":"2020-05-06","v":50.5},
{"s":"IA","d":"2020-03-24","v":0.01},{"s":"IA","d":"2020-03-26","v":0.035},{"s":"IA","d":"2020-03-28","v":0.085},{"s":"IA","d":"2020-03-30","v":0.186},{"s":"IA","d":"2020-04-02","v":0.48},{"s":"IA","d":"2020-04-05","v":0.99},{"s":"IA","d":"2020-04-09","v":1.88},{"s":"IA","d":"2020-04-14","v":3.27},{"s":"IA","d":"2020-04-20","v":4.84},{"s":"IA","d":"2020-04-27","v":6.4},{"s":"IA","d":"2020-05-06","v":8},
{"s":"MD","d":"2020-03-19","v":0.01},{"s":"MD","d":"2020-03-21","v":0.035},{"s":"MD","d":"2020-03-23","v":0.099},{"s":"MD","d":"2020-03-25","v":0.245},{"s":"MD","d":"2020-03-28","v":0.74},{"s":"MD","d":"2020-03-31","v":1.71},{"s":"MD","d":"2020-04-04","v":3.6},{"s":"MD","d":"2020-04-09","v":6.9},{"s":"MD","d":"2020-04-15","v":10.9},{"s":"MD","d":"2020-04-22","v":15.1},{"s":"MD","d":"2020-04-30","v":19.1},{"s":"MD","d":"2020-05-06","v":21.2},
{"s":"NC","d":"2020-03-24","v":0.01},{"s":"NC","d":"2020-03-26","v":0.035},{"s":"NC","d":"2020-03-28","v":0.084},{"s":"NC","d":"2020-03-30","v":0.18},{"s":"NC","d":"2020-04-02","v":0.456},{"s":"NC","d":"2020-04-05","v":0.93},{"s":"NC","d":"2020-04-09","v":1.74},{"s":"NC","d":"2020-04-14","v":3},{"s":"NC","d":"2020-04-20","v":4.4},{"s":"NC","d":"2020-04-27","v":5.8},{"s":"NC","d":"2020-05-06","v":7.2},
{"s":"SC","d":"2020-03-18","v":0.01},{"s":"SC","d":"2020-03-20","v":0.035},{"s":"SC","d":"2020-03-22","v":0.077},{"s":"SC","d":"2020-03-24","v":0.152},{"s":"SC","d":"2020-03-27","v":0.35},{"s":"SC","d":"2020-03-30","v":0.66},{"s":"SC","d":"2020-04-03","v":1.17},{"s":"SC","d":"2020-04-08","v":1.9},{"s":"SC","d":"2020-04-14","v":2.69},{"s":"SC","d":"2020-04-21","v":3.45},{"s":"SC","d":"2020-04-29","v":4.1},{"s":"SC","d":"2020-05-06","v":4.5},
{"s":"TN","d":"2020-03-22","v":0.01},{"s":"TN","d":"2020-03-24","v":0.035},{"s":"TN","d":"2020-03-26","v":0.073},{"s":"TN","d":"2020-03-28","v":0.139},{"s":"TN","d":"2020-03-31","v":0.3},{"s":"TN","d":"2020-04-03","v":0.55},{"s":"TN","d":"2020-04-07","v":0.93},{"s":"TN","d":"2020-04-12","v":1.48},{"s":"TN","d":"2020-04-18","v":2.04},{"s":"TN","d":"2020-04-25","v":2.57},{"s":"TN","d":"2020-05-03","v":3.03},{"s":"TN","d":"2020-05-06","v":3.15},
{"s":"VA","d":"2020-03-14","v":0.01},{"s":"VA","d":"2020-03-16","v":0.035},{"s":"VA","d":"2020-03-18","v":0.088},{"s":"VA","d":"2020-03-20","v":0.196},{"s":"VA","d":"2020-03-23","v":0.52},{"s":"VA","d":"2020-03-26","v":1.1},{"s":"VA","d":"2020-03-30","v":2.12},{"s":"VA","d":"2020-04-04","v":3.78},{"s":"VA","d":"2020-04-10","v":5.6},{"s":"VA","d":"2020-04-17","v":7.55},{"s":"VA","d":"2020-04-25","v":9.3},{"s":"VA","d":"2020-05-06","v":10.8},
{"s":"AZ","d":"2020-03-20","v":0.01},{"s":"AZ","d":"2020-03-22","v":0.035},{"s":"AZ","d":"2020-03-24","v":0.097},{"s":"AZ","d":"2020-03-26","v":0.239},{"s":"AZ","d":"2020-03-29","v":0.71},{"s":"AZ","d":"2020-04-01","v":1.63},{"s":"AZ","d":"2020-04-05","v":3.4},{"s":"AZ","d":"2020-04-10","v":6.5},{"s":"AZ","d":"2020-04-16","v":10.1},{"s":"AZ","d":"2020-04-23","v":14},{"s":"AZ","d":"2020-05-01","v":17.7},{"s":"AZ","d":"2020-05-06","v":19.3},
{"s":"IN","d":"2020-03-17","v":0.01},{"s":"IN","d":"2020-03-19","v":0.035},{"s":"IN","d":"2020-03-21","v":0.096},{"s":"IN","d":"2020-03-23","v":0.233},{"s":"IN","d":"2020-03-26","v":0.68},{"s":"IN","d":"2020-03-29","v":1.55},{"s":"IN","d":"2020-04-02","v":3.2},{"s":"IN","d":"2020-04-07","v":6},{"s":"IN","d":"2020-04-13","v":9.4},{"s":"IN","d":"2020-04-20","v":13},{"s":"IN","d":"2020-04-28","v":16.3},{"s":"IN","d":"2020-05-06","v":18.5},
{"s":"KY","d":"2020-03-15","v":0.01},{"s":"KY","d":"2020-03-17","v":0.035},{"s":"KY","d":"2020-03-19","v":0.075},{"s":"KY","d":"2020-03-21","v":0.147},{"s":"KY","d":"2020-03-24","v":0.33},{"s":"KY","d":"2020-03-27","v":0.62},{"s":"KY","d":"2020-03-31","v":1.07},{"s":"KY","d":"2020-04-05","v":1.73},{"s":"KY","d":"2020-04-11","v":2.41},{"s":"KY","d":"2020-04-18","v":3.08},{"s":"KY","d":"2020-04-26","v":3.66},{"s":"KY","d":"2020-05-06","v":4.1},
{"s":"NV","d":"2020-03-17","v":0.01},{"s":"NV","d":"2020-03-19","v":0.035},{"s":"NV","d":"2020-03-21","v":0.083},{"s":"NV","d":"2020-03-23","v":0.177},{"s":"NV","d":"2020-03-26","v":0.446},{"s":"NV","d":"2020-03-29","v":0.9},{"s":"NV","d":"2020-04-02","v":1.67},{"s":"NV","d":"2020-04-07","v":2.88},{"s":"NV","d":"2020-04-13","v":4.2},{"s":"NV","d":"2020-04-20","v":5.5},{"s":"NV","d":"2020-04-28","v":6.7},{"s":"NV","d":"2020-05-06","v":7.5},
{"s":"NH","d":"2020-03-25","v":0.01},{"s":"NH","d":"2020-03-27","v":0.035},{"s":"NH","d":"2020-03-29","v":0.067},{"s":"NH","d":"2020-03-31","v":0.117},{"s":"NH","d":"2020-04-03","v":0.23},{"s":"NH","d":"2020-04-06","v":0.39},{"s":"NH","d":"2020-04-10","v":0.62},{"s":"NH","d":"2020-04-15","v":0.92},{"s":"NH","d":"2020-04-21","v":1.22},{"s":"NH","d":"2020-04-28","v":1.5},{"s":"NH","d":"2020-05-06","v":1.73},
{"s":"MN","d":"2020-03-21","v":0.01},{"s":"MN","d":"2020-03-23","v":0.035},{"s":"MN","d":"2020-03-25","v":0.083},{"s":"MN","d":"2020-03-27","v":0.175},{"s":"MN","d":"2020-03-30","v":0.435},{"s":"MN","d":"2020-04-02","v":0.87},{"s":"MN","d":"2020-04-06","v":1.62},{"s":"MN","d":"2020-04-11","v":2.77},{"s":"MN","d":"2020-04-17","v":4},{"s":"MN","d":"2020-04-24","v":5.3},{"s":"MN","d":"2020-05-02","v":6.4},{"s":"MN","d":"2020-05-06","v":6.8},
{"s":"NE","d":"2020-03-26","v":0.01},{"s":"NE","d":"2020-03-28","v":0.035},{"s":"NE","d":"2020-03-30","v":0.082},{"s":"NE","d":"2020-04-01","v":0.172},{"s":"NE","d":"2020-04-04","v":0.42},{"s":"NE","d":"2020-04-07","v":0.84},{"s":"NE","d":"2020-04-11","v":1.55},{"s":"NE","d":"2020-04-16","v":2.64},{"s":"NE","d":"2020-04-22","v":3.8},{"s":"NE","d":"2020-04-29","v":5},{"s":"NE","d":"2020-05-06","v":6},
{"s":"OH","d":"2020-03-19","v":0.01},{"s":"OH","d":"2020-03-21","v":0.035},{"s":"OH","d":"2020-03-23","v":0.096},{"s":"OH","d":"2020-03-25","v":0.231},{"s":"OH","d":"2020-03-28","v":0.67},{"s":"OH","d":"2020-03-31","v":1.52},{"s":"OH","d":"2020-04-04","v":3.14},{"s":"OH","d":"2020-04-09","v":5.9},{"s":"OH","d":"2020-04-15","v":9.2},{"s":"OH","d":"2020-04-22","v":12.6},{"s":"OH","d":"2020-04-30","v":15.8},{"s":"OH","d":"2020-05-06","v":17.5},
{"s":"RI","d":"2020-03-25","v":0.01},{"s":"RI","d":"2020-03-27","v":0.035},{"s":"RI","d":"2020-03-29","v":0.1},{"s":"RI","d":"2020-03-31","v":0.248},{"s":"RI","d":"2020-04-03","v":0.75},{"s":"RI","d":"2020-04-06","v":1.76},{"s":"RI","d":"2020-04-10","v":3.7},{"s":"RI","d":"2020-04-15","v":7.2},{"s":"RI","d":"2020-04-21","v":11.3},{"s":"RI","d":"2020-04-28","v":15.8},{"s":"RI","d":"2020-05-06","v":20},
{"s":"WI","d":"2020-03-18","v":0.01},{"s":"WI","d":"2020-03-20","v":0.035},{"s":"WI","d":"2020-03-22","v":0.078},{"s":"WI","d":"2020-03-24","v":0.158},{"s":"WI","d":"2020-03-27","v":0.37},{"s":"WI","d":"2020-03-30","v":0.72},{"s":"WI","d":"2020-04-03","v":1.28},{"s":"WI","d":"2020-04-08","v":2.12},{"s":"WI","d":"2020-04-14","v":3.01},{"s":"WI","d":"2020-04-21","v":3.9},{"s":"WI","d":"2020-04-29","v":4.67},{"s":"WI","d":"2020-05-06","v":5.1},
{"s":"CT","d":"2020-03-19","v":0.01},{"s":"CT","d":"2020-03-21","v":0.035},{"s":"CT","d":"2020-03-23","v":0.109},{"s":"CT","d":"2020-03-25","v":0.293},{"s":"CT","d":"2020-03-28","v":0.98},{"s":"CT","d":"2020-03-31","v":2.46},{"s":"CT","d":"2020-04-04","v":5.6},{"s":"CT","d":"2020-04-09","v":11.3},{"s":"CT","d":"2020-04-15","v":18.5},{"s":"CT","d":"2020-04-22","v":26.6},{"s":"CT","d":"2020-04-30","v":34.4},{"s":"CT","d":"2020-05-06","v":38.5},
{"s":"HI","d":"2020-03-31","v":0.02},{"s":"HI","d":"2020-04-02","v":0.07},{"s":"HI","d":"2020-04-08","v":0.07},{"s":"HI","d":"2020-04-10","v":0.14},{"s":"HI","d":"2020-04-16","v":0.14},{"s":"HI","d":"2020-04-18","v":0.21},{"s":"HI","d":"2020-05-06","v":0.225},
{"s":"OK","d":"2020-03-19","v":0.01},{"s":"OK","d":"2020-03-21","v":0.035},{"s":"OK","d":"2020-03-23","v":0.074},{"s":"OK","d":"2020-03-25","v":0.142},{"s":"OK","d":"2020-03-28","v":0.31},{"s":"OK","d":"2020-03-31","v":0.57},{"s":"OK","d":"2020-04-04","v":0.98},{"s":"OK","d":"2020-04-09","v":1.56},{"s":"OK","d":"2020-04-15","v":2.16},{"s":"OK","d":"2020-04-22","v":2.74},{"s":"OK","d":"2020-04-30","v":3.24},{"s":"OK","d":"2020-05-06","v":3.5},
{"s":"UT","d":"2020-03-22","v":0.01},{"s":"UT","d":"2020-03-24","v":0.035},{"s":"UT","d":"2020-03-26","v":0.068},{"s":"UT","d":"2020-03-28","v":0.121},{"s":"UT","d":"2020-03-31","v":0.244},{"s":"UT","d":"2020-04-03","v":0.417},{"s":"UT","d":"2020-04-07","v":0.67},{"s":"UT","d":"2020-04-12","v":1.01},{"s":"UT","d":"2020-04-18","v":1.35},{"s":"UT","d":"2020-04-25","v":1.67},{"s":"UT","d":"2020-05-03","v":1.94},{"s":"UT","d":"2020-05-06","v":2},
{"s":"KS","d":"2020-03-18","v":0.01},{"s":"KS","d":"2020-03-20","v":0.035},{"s":"KS","d":"2020-03-22","v":0.069},{"s":"KS","d":"2020-03-24","v":0.124},{"s":"KS","d":"2020-03-27","v":0.256},{"s":"KS","d":"2020-03-30","v":0.44},{"s":"KS","d":"2020-04-03","v":0.72},{"s":"KS","d":"2020-04-08","v":1.1},{"s":"KS","d":"2020-04-14","v":1.48},{"s":"KS","d":"2020-04-21","v":1.84},{"s":"KS","d":"2020-04-29","v":2.14},{"s":"KS","d":"2020-05-06","v":2.31},
{"s":"LA","d":"2020-03-14","v":0.01},{"s":"LA","d":"2020-03-16","v":0.035},{"s":"LA","d":"2020-03-18","v":0.103},{"s":"LA","d":"2020-03-20","v":0.267},{"s":"LA","d":"2020-03-23","v":0.84},{"s":"LA","d":"2020-03-26","v":2.03},{"s":"LA","d":"2020-03-30","v":4.4},{"s":"LA","d":"2020-04-04","v":8.7},{"s":"LA","d":"2020-04-10","v":14},{"s":"LA","d":"2020-04-17","v":19.7},{"s":"LA","d":"2020-04-25","v":25.2},{"s":"LA","d":"2020-05-06","v":30},
{"s":"MO","d":"2020-03-17","v":0.01},{"s":"MO","d":"2020-03-19","v":0.035},{"s":"MO","d":"2020-03-21","v":0.081},{"s":"MO","d":"2020-03-23","v":0.169},{"s":"MO","d":"2020-03-26","v":0.41},{"s":"MO","d":"2020-03-29","v":0.82},{"s":"MO","d":"2020-04-02","v":1.49},{"s":"MO","d":"2020-04-07","v":2.52},{"s":"MO","d":"2020-04-13","v":3.65},{"s":"MO","d":"2020-04-20","v":4.76},{"s":"MO","d":"2020-04-28","v":5.75},{"s":"MO","d":"2020-05-06","v":6.4},
{"s":"VT","d":"2020-03-18","v":0.01},{"s":"VT","d":"2020-03-20","v":0.035},{"s":"VT","d":"2020-03-22","v":0.054},{"s":"VT","d":"2020-03-24","v":0.078},{"s":"VT","d":"2020-03-27","v":0.124},{"s":"VT","d":"2020-03-30","v":0.175},{"s":"VT","d":"2020-04-03","v":0.239},{"s":"VT","d":"2020-04-08","v":0.31},{"s":"VT","d":"2020-04-14","v":0.38},{"s":"VT","d":"2020-04-21","v":0.43},{"s":"VT","d":"2020-04-29","v":0.48},{"s":"VT","d":"2020-05-06","v":0.5},
{"s":"AK","d":"2020-03-26","v":0.02},{"s":"AK","d":"2020-03-28","v":0.04},{"s":"AK","d":"2020-04-05","v":0.04},{"s":"AK","d":"2020-04-07","v":0.08},{"s":"AK","d":"2020-04-15","v":0.08},{"s":"AK","d":"2020-04-17","v":0.11},{"s":"AK","d":"2020-05-02","v":0.12},{"s":"AK","d":"2020-05-04","v":0.131},{"s":"AK","d":"2020-05-06","v":0.131},
{"s":"AR","d":"2020-03-22","v":0.01},{"s":"AR","d":"2020-03-24","v":0.035},{"s":"AR","d":"2020-03-26","v":0.062},{"s":"AR","d":"2020-03-28","v":0.102},{"s":"AR","d":"2020-03-31","v":0.187},{"s":"AR","d":"2020-04-03","v":0.3},{"s":"AR","d":"2020-04-07","v":0.45},{"s":"AR","d":"2020-04-12","v":0.64},{"s":"AR","d":"2020-04-18","v":0.83},{"s":"AR","d":"2020-04-25","v":0.99},{"s":"AR","d":"2020-05-03","v":1.13},{"s":"AR","d":"2020-05-06","v":1.16},
{"s":"DE","d":"2020-03-25","v":0.01},{"s":"DE","d":"2020-03-27","v":0.035},{"s":"DE","d":"2020-03-29","v":0.072},{"s":"DE","d":"2020-03-31","v":0.136},{"s":"DE","d":"2020-04-03","v":0.29},{"s":"DE","d":"2020-04-06","v":0.53},{"s":"DE","d":"2020-04-10","v":0.89},{"s":"DE","d":"2020-04-15","v":1.4},{"s":"DE","d":"2020-04-21","v":1.93},{"s":"DE","d":"2020-04-28","v":2.43},{"s":"DE","d":"2020-05-06","v":2.86},
{"s":"ID","d":"2020-03-24","v":0.01},{"s":"ID","d":"2020-03-26","v":0.035},{"s":"ID","d":"2020-03-28","v":0.059},{"s":"ID","d":"2020-03-30","v":0.094},{"s":"ID","d":"2020-04-02","v":0.166},{"s":"ID","d":"2020-04-05","v":0.255},{"s":"ID","d":"2020-04-09","v":0.37},{"s":"ID","d":"2020-04-14","v":0.52},{"s":"ID","d":"2020-04-20","v":0.65},{"s":"ID","d":"2020-04-27","v":0.77},{"s":"ID","d":"2020-05-06","v":0.88},
{"s":"ME","d":"2020-03-25","v":0.01},{"s":"ME","d":"2020-03-27","v":0.035},{"s":"ME","d":"2020-03-29","v":0.059},{"s":"ME","d":"2020-03-31","v":0.093},{"s":"ME","d":"2020-04-03","v":0.162},{"s":"ME","d":"2020-04-06","v":0.247},{"s":"ME","d":"2020-04-10","v":0.36},{"s":"ME","d":"2020-04-15","v":0.5},{"s":"ME","d":"2020-04-21","v":0.63},{"s":"ME","d":"2020-04-28","v":0.74},{"s":"ME","d":"2020-05-06","v":0.83},
{"s":"MI","d":"2020-03-18","v":0.01},{"s":"MI","d":"2020-03-20","v":0.035},{"s":"MI","d":"2020-03-22","v":0.117},{"s":"MI","d":"2020-03-24","v":0.34},{"s":"MI","d":"2020-03-27","v":1.21},{"s":"MI","d":"2020-03-30","v":3.2},{"s":"MI","d":"2020-04-03","v":7.7},{"s":"MI","d":"2020-04-08","v":16.3},{"s":"MI","d":"2020-04-14","v":27.6},{"s":"MI","d":"2020-04-21","v":40.6},{"s":"MI","d":"2020-04-29","v":53.2},{"s":"MI","d":"2020-05-06","v":61},
{"s":"MS","d":"2020-03-19","v":0.01},{"s":"MS","d":"2020-03-21","v":0.035},{"s":"MS","d":"2020-03-23","v":0.08},{"s":"MS","d":"2020-03-25","v":0.163},{"s":"MS","d":"2020-03-28","v":0.39},{"s":"MS","d":"2020-03-31","v":0.76},{"s":"MS","d":"2020-04-04","v":1.38},{"s":"MS","d":"2020-04-09","v":2.3},{"s":"MS","d":"2020-04-15","v":3.3},{"s":"MS","d":"2020-04-22","v":4.29},{"s":"MS","d":"2020-04-30","v":5.16},{"s":"MS","d":"2020-05-06","v":5.6},
{"s":"MT","d":"2020-03-26","v":0.02},{"s":"MT","d":"2020-03-28","v":0.05},{"s":"MT","d":"2020-04-01","v":0.05},{"s":"MT","d":"2020-04-03","v":0.1},{"s":"MT","d":"2020-04-07","v":0.1},{"s":"MT","d":"2020-04-09","v":0.19},{"s":"MT","d":"2020-04-15","v":0.19},{"s":"MT","d":"2020-04-17","v":0.21},{"s":"MT","d":"2020-05-06","v":0.21},
{"s":"NM","d":"2020-03-24","v":0.01},{"s":"NM","d":"2020-03-26","v":0.035},{"s":"NM","d":"2020-03-28","v":0.071},{"s":"NM","d":"2020-03-30","v":0.131},{"s":"NM","d":"2020-04-02","v":0.277},{"s":"NM","d":"2020-04-05","v":0.49},{"s":"NM","d":"2020-04-09","v":0.81},{"s":"NM","d":"2020-04-14","v":1.26},{"s":"NM","d":"2020-04-20","v":1.72},{"s":"NM","d":"2020-04-27","v":2.15},{"s":"NM","d":"2020-05-06","v":2.55},
{"s":"ND","d":"2020-03-28","v":0.02},{"s":"ND","d":"2020-03-30","v":0.13},{"s":"ND","d":"2020-04-05","v":0.13},{"s":"ND","d":"2020-04-07","v":0.26},{"s":"ND","d":"2020-04-15","v":0.26},{"s":"ND","d":"2020-04-19","v":0.3},{"s":"ND","d":"2020-04-29","v":0.32},{"s":"ND","d":"2020-05-01","v":0.43},{"s":"ND","d":"2020-05-06","v":0.45},
{"s":"SD","d":"2020-04-03","v":0.02},{"s":"SD","d":"2020-04-05","v":0.11},{"s":"SD","d":"2020-04-13","v":0.11},{"s":"SD","d":"2020-04-15","v":0.23},{"s":"SD","d":"2020-04-21","v":0.23},{"s":"SD","d":"2020-04-23","v":0.46},{"s":"SD","d":"2020-04-27","v":0.46},{"s":"SD","d":"2020-04-30","v":0.57},{"s":"SD","d":"2020-05-06","v":0.6},
{"s":"WV","d":"2020-03-28","v":0.01},{"s":"WV","d":"2020-03-30","v":0.035},{"s":"WV","d":"2020-04-01","v":0.057},{"s":"WV","d":"2020-04-03","v":0.088},{"s":"WV","d":"2020-04-06","v":0.149},{"s":"WV","d":"2020-04-09","v":0.222},{"s":"WV","d":"2020-04-13","v":0.32},{"s":"WV","d":"2020-04-18","v":0.43},{"s":"WV","d":"2020-04-24","v":0.54},{"s":"WV","d":"2020-05-01","v":0.63},{"s":"WV","d":"2020-05-06","v":0.69},
{"s":"WY","d":"2020-04-20","v":0.01},{"s":"WY","d":"2020-04-22","v":0.085},{"s":"WY","d":"2020-05-06","v":0.09},
{"s":"AL","d":"2020-03-24","v":0.01},{"s":"AL","d":"2020-03-26","v":0.035},{"s":"AL","d":"2020-03-28","v":0.076},{"s":"AL","d":"2020-03-30","v":0.15},{"s":"AL","d":"2020-04-02","v":0.34},{"s":"AL","d":"2020-04-05","v":0.65},{"s":"AL","d":"2020-04-09","v":1.13},{"s":"AL","d":"2020-04-14","v":1.84},{"s":"AL","d":"2020-04-20","v":2.58},{"s":"AL","d":"2020-04-27","v":3.3},{"s":"AL","d":"2020-05-06","v":4}
]},
"spacing":93,
"bounds":"flush",
"resolve":{"scale":{"x":"independent","y":"independent","color":"shared"},"legend":{"color":"independent"}},
"hconcat":[
{"width":322,"height":503,
"data":{"name":"conf"},
"transform":[{"lookup":"s","from":{"data":{"name":"names"},"key":"a","fields":["n"]}}],
"encoding":{
"x":{"field":"d","type":"temporal","scale":{"type":"utc","domain":[1583409600000,1589207040000]},
"axis":{"values":[1583452800000,1583539200000,1583625600000,1583712000000,1583798400000,1583884800000,1583971200000,1584057600000,1584144000000,1584230400000,1584316800000,1584403200000,1584489600000,1584576000000,1584662400000,1584748800000,1584835200000,1584921600000,1585008000000,1585094400000,1585180800000,1585267200000,1585353600000,1585440000000,1585526400000,1585612800000,1585699200000,1585785600000,1585872000000,1585958400000,1586044800000,1586131200000,1586217600000,1586304000000,1586390400000,1586476800000,1586563200000,1586649600000,1586736000000,1586822400000,1586908800000,1586995200000,1587081600000,1587168000000,1587254400000,1587340800000,1587427200000,1587513600000,1587600000000,1587686400000,1587772800000,1587859200000,1587945600000,1588032000000,1588118400000,1588204800000,1588291200000,1588377600000,1588464000000,1588550400000,1588636800000,1588723200000,1588809600000,1588896000000,1588982400000],
"labelExpr":"(+datum.value - 1583452800000) % 1468800000 == 0 && +datum.value <= 1587859200000 ? utcFormat(datum.value, '%Y−%m−%d') : ''",
"labelAngle":0,"labelAlign":"center","labelBaseline":"top","labelPadding":6,"title":"Time (day of 2020)","titlePadding":13}},
"y":{"field":"v","type":"quantitative","scale":{"type":"log","domain":[0.734,4160],"nice":false},
"axis":{"values":[1,5,10,50,100,500,1000],"labelExpr":"format(datum.value, 'd')","labelAngle":-90,"labelAlign":"center","labelBaseline":"bottom","labelPadding":7,"title":"No. Confirmed per 100,000","titlePadding":3}},
"color":{"field":"n","type":"nominal",
"scale":{"domain":["Washington","New York","California","Massachusetts","Georgia","Colorado","Florida","New Jersey","Oregon","Texas","Illinois","Pennsylvania","Iowa","Maryland","North Carolina","South Carolina","Tennessee","Virginia","Arizona","Indiana","Kentucky","Nevada","New Hampshire","Minnesota","Nebraska","Ohio","Rhode Island","Wisconsin","Connecticut","Hawaii","Oklahoma","Utah","Kansas","Louisiana","Missouri","Vermont","Alaska","Arkansas","Delaware","Idaho","Maine","Michigan","Mississippi","Montana","New Mexico","North Dakota","South Dakota","West Virginia","Wyoming","Alabama"],
"range":["#FF0000","#FF1F00","#FF3D00","#FF5C00","#FF7A00","#FF9900","#FFB800","#FFD600","#FFF500","#EBFF00","#CCFF00","#ADFF00","#8FFF00","#70FF00","#52FF00","#33FF00","#14FF00","#00FF0A","#00FF29","#00FF47","#00FF66","#00FF85","#00FFA3","#00FFC2","#00FFE0","#00FFFF","#00E0FF","#00C2FF","#00A3FF","#0085FF","#0066FF","#0047FF","#0029FF","#000AFF","#1400FF","#3300FF","#5200FF","#7000FF","#8F00FF","#AD00FF","#CC00FF","#EB00FF","#FF00F5","#FF00D6","#FF00B8","#FF0099","#FF007A","#FF005C","#FF003D","#FF001F"]},
"legend":{"orient":"none","legendX":5,"legendY":4,"title":null,"labelFontSize":7,"symbolSize":0,"symbolStrokeWidth":0,"symbolOpacity":0,"labelOffset":0,"rowPadding":1.5,"padding":0,"symbolLimit":100,"labelLimit":300,"encode":{"labels":{"update":{"fill":{"scale":"color","field":"value"}}}}}}},
"layer":[
{"mark":{"type":"line","strokeWidth":1.2,"clip":true,"interpolate":"monotone"}},
{"transform":[{"filter":"utcmonth(datum.d) == 4 && utcdate(datum.d) == 6"}],"mark":{"type":"text","align":"left","baseline":"middle","dx":2,"fontSize":7,"clip":true,"font":"Liberation Sans"},"encoding":{"text":{"field":"n"}}}
]},
{"width":322,"height":503,
"data":{"name":"death"},
"transform":[{"lookup":"s","from":{"data":{"name":"names"},"key":"a","fields":["n"]}}],
"encoding":{
"x":{"field":"d","type":"temporal","scale":{"type":"utc","domain":[1583409600000,1589207040000]},
"axis":{"values":[1583452800000,1583539200000,1583625600000,1583712000000,1583798400000,1583884800000,1583971200000,1584057600000,1584144000000,1584230400000,1584316800000,1584403200000,1584489600000,1584576000000,1584662400000,1584748800000,1584835200000,1584921600000,1585008000000,1585094400000,1585180800000,1585267200000,1585353600000,1585440000000,1585526400000,1585612800000,1585699200000,1585785600000,1585872000000,1585958400000,1586044800000,1586131200000,1586217600000,1586304000000,1586390400000,1586476800000,1586563200000,1586649600000,1586736000000,1586822400000,1586908800000,1586995200000,1587081600000,1587168000000,1587254400000,1587340800000,1587427200000,1587513600000,1587600000000,1587686400000,1587772800000,1587859200000,1587945600000,1588032000000,1588118400000,1588204800000,1588291200000,1588377600000,1588464000000,1588550400000,1588636800000,1588723200000,1588809600000,1588896000000,1588982400000],
"labelExpr":"(+datum.value - 1583452800000) % 1468800000 == 0 && +datum.value <= 1587859200000 ? utcFormat(datum.value, '%Y−%m−%d') : ''",
"labelAngle":0,"labelAlign":"center","labelBaseline":"top","labelPadding":6,"title":"Time (day of 2020)","titlePadding":13}},
"y":{"field":"v","type":"quantitative","scale":{"type":"log","domain":[0.03534,571.8],"nice":false},
"axis":{"values":[0.05,0.1,0.5,1,5,10,50,100,500],"labelExpr":"datum.value == 0.05 ? '5e−02' : datum.value == 0.5 ? '5e−01' : datum.value == 5 ? '5e+00' : datum.value == 50 ? '5e+01' : datum.value == 500 ? '5e+02' : ''","labelAngle":-90,"labelAlign":"center","labelBaseline":"bottom","labelPadding":7,"title":"No. Deaths per 100,000","titlePadding":17}},
"color":{"field":"n","type":"nominal",
"legend":{"orient":"none","legendX":5,"legendY":4,"title":null,"labelFontSize":7,"symbolSize":0,"symbolStrokeWidth":0,"symbolOpacity":0,"labelOffset":0,"rowPadding":1.5,"padding":0,"symbolLimit":100,"labelLimit":300,"encode":{"labels":{"update":{"fill":{"scale":"color","field":"value"}}}}}}},
"layer":[
{"mark":{"type":"line","strokeWidth":1.2,"clip":true,"interpolate":"monotone"}},
{"transform":[{"filter":"utcmonth(datum.d) == 4 && utcdate(datum.d) == 6"}],"mark":{"type":"text","align":"left","baseline":"middle","dx":2,"fontSize":7,"clip":true,"font":"Liberation Sans"},"encoding":{"text":{"field":"n"}}}
]}
]
}
